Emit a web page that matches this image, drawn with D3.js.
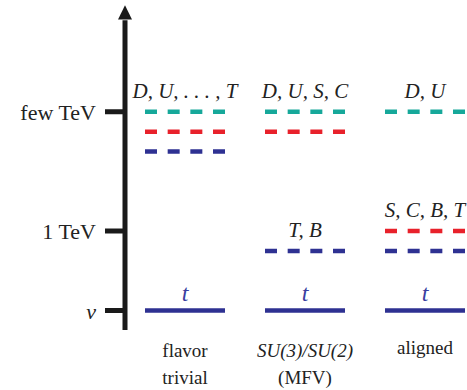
<!DOCTYPE html>
<html>
<head>
<meta charset="utf-8">
<script src="https://cdn.jsdelivr.net/npm/d3@7.9.0/dist/d3.min.js"></script>
<style>
  body { margin: 0; background: #fff; }
</style>
</head>
<body>
<svg id="chart" width="467" height="390" font-family="Liberation Serif">
  <style>text { font-family: Liberation Serif; }</style>
</svg>
<script>
// energy levels on the axis (v = 0, 1 TeV = 1, few TeV = 2.5)
const tickLabels = ["v", "1 TeV", "few TeV"];
const tickValues = [0, 1, 2.5];

// the three scenarios (columns)
const columns = ["flavor", "mfv", "aligned"];
const columnNames = [["flavor", "trivial"], ["SU(3)/SU(2)", "(MFV)"], ["aligned"]];

// states: column, level, colour key, dashed?
const lineCols   = ["flavor", "flavor", "flavor", "flavor", "mfv", "mfv", "mfv", "mfv", "aligned", "aligned", "aligned", "aligned"];
const lineLevels = [2.5, 2.25, 2.0, 0, 2.5, 2.25, 0.75, 0, 2.5, 1.0, 0.75, 0];
const lineColors = ["teal", "red", "blue", "blue", "teal", "red", "blue", "blue", "teal", "red", "blue", "blue"];
const lineDashed = [true, true, true, false, true, true, true, false, true, true, true, false];

// labels sitting above a line
const labelCols   = ["flavor", "mfv", "aligned", "mfv", "aligned", "flavor", "mfv", "aligned"];
const labelLevels = [2.5, 2.5, 2.5, 0.75, 1.0, 0, 0, 0];
const labelTexts  = ["D, U, . . . , T", "D, U, S, C", "D, U", "T, B", "S, C, B, T", "t", "t", "t"];

const palette = { teal: "#16a89a", red: "#e8212b", blue: "#2e3192" };

const svg = d3.select("#chart");

const y = d3.scaleLinear().domain([0, 1]).range([310.5, 231]);
const x = d3.scalePoint().domain(columns).range([185, 425]);
const halfW = 40;

// vertical axis with arrow
const axisX = 125;
svg.append("line")
  .attr("x1", axisX).attr("x2", axisX)
  .attr("y1", y(-0.245)).attr("y2", y(3.65))
  .attr("stroke", "#1a1a1a").attr("stroke-width", 5);
svg.append("path")
  .attr("d", `M${axisX},${y(3.84)} L${axisX - 7},${y(3.66)} L${axisX + 7},${y(3.66)} Z`)
  .attr("fill", "#1a1a1a");

// ticks
tickValues.forEach((v, i) => {
  svg.append("line")
    .attr("x1", 105).attr("x2", axisX)
    .attr("y1", y(v)).attr("y2", y(v))
    .attr("stroke", "#1a1a1a").attr("stroke-width", 5);
  svg.append("text")
    .attr("x", 96).attr("y", y(v) + 8)
    .attr("text-anchor", "end")
    .attr("font-size", 22)
    .attr("font-style", i === 0 ? "italic" : "normal")
    .attr("fill", "#222")
    .text(tickLabels[i]);
});

// level lines
lineLevels.forEach((lv, i) => {
  svg.append("line")
    .attr("x1", x(lineCols[i]) - halfW).attr("x2", x(lineCols[i]) + halfW)
    .attr("y1", y(lv)).attr("y2", y(lv))
    .attr("stroke", palette[lineColors[i]])
    .attr("stroke-width", 4.5)
    .attr("stroke-dasharray", lineDashed[i] ? "12,10.67" : null);
});

// labels over the lines
labelLevels.forEach((lv, i) => {
  const isT = labelTexts[i] === "t";
  svg.append("text")
    .attr("x", x(labelCols[i]))
    .attr("y", y(lv) - (isT ? 10 : 14))
    .attr("text-anchor", "middle")
    .attr("font-size", isT ? 24 : 21)
    .attr("font-style", "italic")
    .attr("fill", isT ? "#3a3fa0" : "#222")
    .text(labelTexts[i]);
});

// column names
columns.forEach((c, i) => {
  columnNames[i].forEach((s, j) => {
    svg.append("text")
      .attr("x", x(c))
      .attr("y", (i === 2 ? 354 : 357) + j * 27)
      .attr("text-anchor", "middle")
      .attr("font-size", 19)
      .attr("font-style", (i === 1 && j === 0) ? "italic" : "normal")
      .attr("fill", "#222")
      .text(s);
  });
});
</script>
</body>
</html>
